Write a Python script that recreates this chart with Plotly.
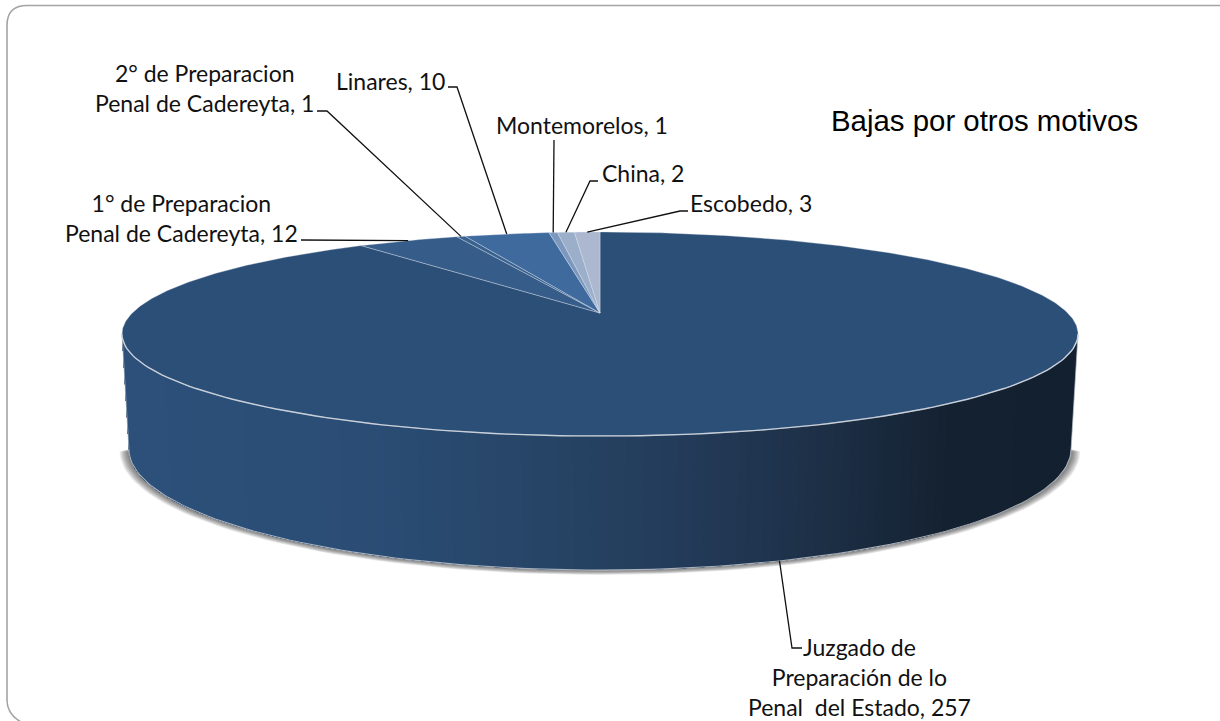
import math
import plotly.graph_objects as go

# ---- data ----
categories = ["Juzgado de Preparación de lo Penal del Estado",
              "1° de Preparacion Penal de Cadereyta",
              "2° de Preparacion Penal de Cadereyta",
              "Linares", "Montemorelos", "China", "Escobedo"]
values = [257, 12, 1, 10, 1, 2, 3]
slice_colors = ["#2c4f78", "#365d8a", "#3a628f", "#3f6a9e", "#7d98bf", "#9cafca", "#abb8d0"]

chart_title = "Bajas por otros motivos"
label_texts = [
    "Juzgado de<br>Preparación de lo<br>Penal\u00a0 del Estado, 257",
    "1° de Preparacion<br>Penal de Cadereyta, 12",
    "2° de Preparacion<br>Penal de Cadereyta, 1",
    "Linares, 10",
    "Montemorelos, 1",
    "China, 2",
    "Escobedo, 3",
]
# label centres (pixels in the slide)
label_pos = [(859, 677), (181.5, 217.5), (204, 88), (390, 81), (582, 125), (642.5, 173), (751, 203)]
# leader elbows, from the label towards the pie
leader_elbows = [
    [(802, 648), (792, 648)],
    [(301, 240)],
    [(317, 111), (327, 111)],
    [(448, 87), (457, 87)],
    [(554, 140)],
    [(598, 181), (590, 181)],
    [(688, 211), (680, 211)],
]

# ---- projection of the tilted disc ----
CX, APEX_Y = 600.0, 313.0
K = 0.206
R_TOP, H_TOP = 467.8, 97.7
R_BOT, H_BOT, Y_BOT = 461.0, 116.0, 424.0


def top_pt(t):
    d = 1 + K * math.cos(t)
    return CX + R_TOP * math.sin(t) / d, APEX_Y - H_TOP * math.cos(t) / d


def bot_pt(t, grow=0.0):
    d = 1 + K * math.cos(t)
    return (CX + (R_BOT + grow) * math.sin(t) / d,
            Y_BOT + 0.22 * grow - (H_BOT + 0.25 * grow) * math.cos(t) / d)


total = sum(values)
edges = [0.0]
for v in values:
    edges.append(edges[-1] + v / total * 2 * math.pi)

fig = go.Figure()


def poly(pts, fill, line=None, width=0.0, name=None, closed=True):
    xs = [p[0] for p in pts]
    ys = [p[1] for p in pts]
    if closed:
        xs.append(xs[0])
        ys.append(ys[0])
    fig.add_trace(go.Scatter(
        x=xs, y=ys, mode="lines", fill="toself" if fill else "none",
        fillcolor=fill, line=dict(color=line or "rgba(0,0,0,0)", width=width),
        hoverinfo="skip" if name is None else "text", text=name,
        showlegend=False))


front_a = math.acos(-K)          # silhouette angles of the disc
front_b = 2 * math.pi - front_a

# soft shadow under the drum
for g in range(9, 0, -1):
    n = 90
    pts = [bot_pt(front_a + (front_b - front_a) * i / n, grow=g * 1.0) for i in range(n + 1)]
    poly(pts, "rgba(40,40,40,0.085)")

# gradient stops of the drum wall: (fraction across, rgb)
wall_stops = [(0.0, (44, 80, 122)), (0.25, (43, 77, 117)), (0.45, (38, 68, 101)),
              (0.6, (35, 58, 88)), (0.75, (28, 46, 68)), (0.87, (20, 33, 48)), (1.0, (19, 32, 47))]


def wall_color(f):
    for (a, ca), (b, cb) in zip(wall_stops, wall_stops[1:]):
        if f <= b:
            u = (f - a) / (b - a)
            return "rgb(%d,%d,%d)" % tuple(round(p + (q - p) * u) for p, q in zip(ca, cb))
    return "rgb(19,32,47)"


def angle_at_x(x):
    lo, hi = front_a, front_b      # x falls as t grows
    for _ in range(40):
        m = (lo + hi) / 2
        if top_pt(m)[0] > x:
            lo = m
        else:
            hi = m
    return (lo + hi) / 2


# wall: painted from right to left, each band covering all that remains, so no seams
N = 110
x_left, x_right = top_pt(front_b)[0], top_pt(front_a)[0]
for i in range(N):
    xa = x_right - (x_right - x_left) * i / N
    t0 = front_a if i == 0 else angle_at_x(xa)
    m = 60
    ts = [t0 + (front_b - t0) * j / m for j in range(m + 1)]
    pts = [top_pt(t) for t in ts] + [bot_pt(t) for t in reversed(ts)]
    f = (xa - (x_right - x_left) / N / 2 - x_left) / (x_right - x_left)
    poly(pts, wall_color(f))

# bevel lines on the wall edge
n = 120
poly([bot_pt(front_a + (front_b - front_a) * i / n) for i in range(n + 1)], None,
     "rgba(190,196,204,0.85)", 1.1, closed=False)
poly([top_pt(front_a), bot_pt(front_a)], None, "rgba(190,196,204,0.7)", 1.0, closed=False)
poly([top_pt(front_b), bot_pt(front_b)], None, "rgba(190,196,204,0.7)", 1.0, closed=False)

# top face slices
apex = (CX, APEX_Y)
for i, cat in enumerate(categories):
    a, b = edges[i], edges[i + 1]
    steps = max(2, int((b - a) / 0.01))
    pts = [apex] + [top_pt(a + (b - a) * j / steps) for j in range(steps + 1)]
    poly(pts, slice_colors[i], "rgba(225,230,238,0.45)", 0.8,
         name="%s: %d" % (cat, values[i]))

# bright front rim of the top face
poly([top_pt(front_a + (front_b - front_a) * i / n) for i in range(n + 1)], None,
     "rgba(205,212,220,0.95)", 1.4, closed=False)

# leader lines: from the elbow to the middle of the slice's rim
for i, elbows in enumerate(leader_elbows):
    mid = (edges[i] + edges[i + 1]) / 2
    end = bot_pt(mid) if math.cos(mid) < -K else top_pt(mid)
    poly(list(elbows) + [end], None, "#111111", 1.3, closed=False)

annotations = []
for text, (x, y) in zip(label_texts, label_pos):
    annotations.append(dict(x=x, y=y, text=text, showarrow=False, xanchor="center",
                            yanchor="middle", xref="x", yref="y",
                            font=dict(family="Lato", size=23, color="#111111")))
annotations.append(dict(x=984, y=120, text=chart_title, showarrow=False, xanchor="center",
                        yanchor="middle", xref="x", yref="y",
                        font=dict(family="Liberation Sans", size=29.4, color="#000000")))

frame = ("M 1220 5.5 L 27 5.5 Q 7 5.5 7 25.5 L 7 700 Q 7 714 21 722")

fig.update_layout(
    width=1220, height=721,
    margin=dict(l=0, r=0, t=0, b=0),
    paper_bgcolor="white", plot_bgcolor="white",
    xaxis=dict(range=[0, 1220], visible=False, fixedrange=True),
    yaxis=dict(range=[721, 0], visible=False, fixedrange=True),
    annotations=annotations,
    shapes=[dict(type="path", path=frame, line=dict(color="#a3a3a3", width=1.6), layer="below")],
    showlegend=False,
)

fig.write_html("out.html", config={"displayModeBar": False},
               post_script="document.body.style.margin='0';")
